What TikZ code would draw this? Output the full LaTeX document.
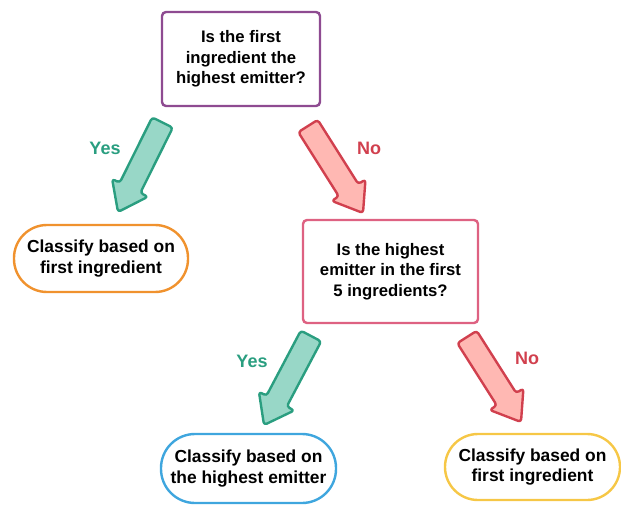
\documentclass[tikz,border=0pt]{standalone}
\usepackage{fontspec}
\setmainfont{Liberation Sans}
\usepackage{xcolor}
\definecolor{cQuestA}{HTML}{8E4B91}
\definecolor{cQuestB}{HTML}{DE6282}
\definecolor{cLeafA}{HTML}{F0922E}
\definecolor{cLeafB}{HTML}{3FA6DE}
\definecolor{cLeafC}{HTML}{F6C746}
\definecolor{cYes}{HTML}{2A9E80}
\definecolor{cYesFill}{HTML}{98D7C7}
\definecolor{cNo}{HTML}{D1404E}
\definecolor{cNoFill}{HTML}{FFB8B3}
\usetikzlibrary{calc}
\tikzset{
  node-quest/.style={draw,line width=2.4pt,rounded corners=4pt,inner sep=0pt,
    align=center,font=\bfseries\fontsize{16.7}{20.5}\selectfont},
  node-leaf/.style={draw,line width=2.4pt,inner sep=0pt,
    align=center,font=\bfseries\fontsize{17.4}{20.5}\selectfont},
  arrow-yes/.style={draw=cYes,fill=cYesFill,line width=2.4pt,
    rounded corners=3pt,line join=round},
  arrow-no/.style={draw=cNo,fill=cNoFill,line width=2.4pt,
    rounded corners=3pt,line join=round},
  label-yes/.style={text=cYes,font=\bfseries\fontsize{18}{20}\selectfont},
  label-no/.style={text=cNo,font=\bfseries\fontsize{18}{20}\selectfont},
}
% block arrow from tail #2 to tip #3
\newcommand{\blockarrow}[3]{
  \coordinate (ba-c) at ($(#3)!27pt!(#2)$);
  \draw[#1] ($(#2)!11.5pt!90:(#3)$) -- ($(ba-c)!11.5pt!90:(#3)$)
    -- ($(ba-c)!20pt!90:(#3)$) -- (#3) -- ($(ba-c)!20pt!-90:(#3)$)
    -- ($(ba-c)!11.5pt!-90:(#3)$) -- ($(#2)!11.5pt!-90:(#3)$) -- cycle;
}

\begin{document}
\begin{tikzpicture}[x=1pt,y=-1pt]
  \useasboundingbox (0,0) rectangle (621,505);
  % questions
  \node[node-quest,draw=cQuestA,minimum width=158pt,minimum height=94pt]
    at (241,59) (q1) {Is the first\\ingredient the\\highest emitter?};
  \node[node-quest,draw=cQuestB,minimum width=175pt,minimum height=103pt]
    at (390.5,271.5) (q2) {Is the highest\\emitter in the first\\5 ingredients?};
  % outcomes
  \node[node-leaf,draw=cLeafA,minimum width=174pt,minimum height=67pt,
    rounded corners=33pt] at (101,258.5) (first-a) {Classify based on\\first ingredient};
  \node[node-leaf,draw=cLeafB,minimum width=175pt,minimum height=69pt,
    rounded corners=34pt] at (248.5,468.5) (highest) {Classify based on\\the highest emitter};
  \node[node-leaf,draw=cLeafC,minimum width=175pt,minimum height=66pt,
    rounded corners=33pt] at (532.5,467) (first-b) {Classify based on\\first ingredient};
  % arrows
  \coordinate (yes1-s) at (162.5,122.5);
  \coordinate (yes1-e) at (118,212);
  \coordinate (no1-s) at (308,126);
  \coordinate (no1-e) at (363,213);
  \coordinate (yes2-s) at (311,336);
  \coordinate (yes2-e) at (264,425);
  \coordinate (no2-s) at (467,337);
  \coordinate (no2-e) at (521,422);
  \blockarrow{arrow-yes}{yes1-s}{yes1-e}
  \blockarrow{arrow-no}{no1-s}{no1-e}
  \blockarrow{arrow-yes}{yes2-s}{yes2-e}
  \blockarrow{arrow-no}{no2-s}{no2-e}
  \node[label-yes] at (105,148) (yes1) {Yes};
  \node[label-no] at (369,148) (no1) {No};
  \node[label-yes] at (252,361) (yes2) {Yes};
  \node[label-no] at (527,358) (no2) {No};
\end{tikzpicture}
\end{document}
